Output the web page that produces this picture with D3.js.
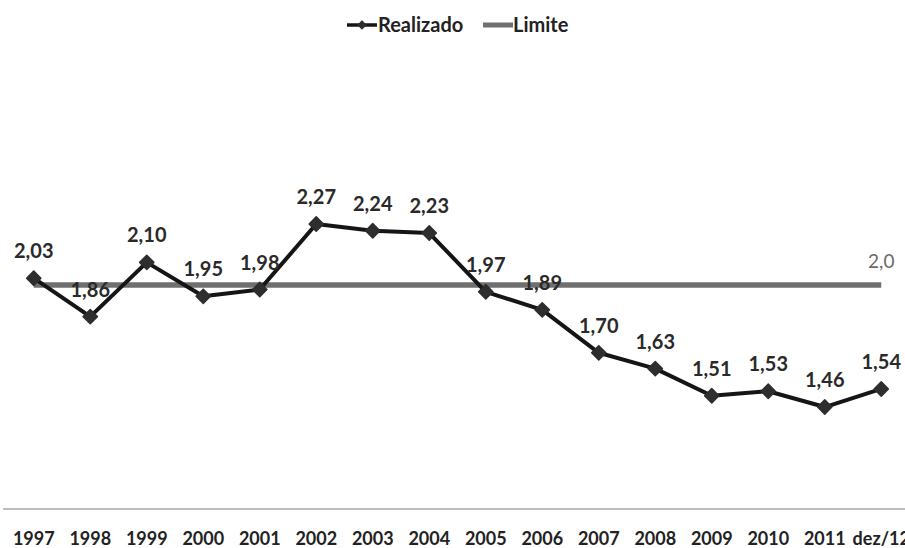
<!DOCTYPE html>
<html>
<head>
<meta charset="utf-8">
<script src="https://cdn.jsdelivr.net/npm/d3@7"></script>
<style>
  html, body { margin: 0; padding: 0; background: #fff; }
  svg { display: block; }
</style>
</head>
<body>
<svg id="chart" width="905" height="548"></svg>
<script>
// Categories (years) and the realised ratio per year
const categories = ["1997","1998","1999","2000","2001","2002","2003","2004","2005","2006","2007","2008","2009","2010","2011","dez/12"];
const realizado = [2.03, 1.86, 2.10, 1.95, 1.98, 2.27, 2.24, 2.23, 1.97, 1.89, 1.70, 1.63, 1.51, 1.53, 1.46, 1.54];
const limite = [2.0, 2.0, 2.0, 2.0, 2.0, 2.0, 2.0, 2.0, 2.0, 2.0, 2.0, 2.0, 2.0, 2.0, 2.0, 2.0];
const seriesNames = ["Realizado", "Limite"];
const yDomain = [1.0, 3.0];

const svg = d3.select("#chart");
const fmt = v => d3.format(".2f")(v).replace(".", ",");
const fmt1 = v => d3.format(".1f")(v).replace(".", ",");

const font = "Lato, 'Open Sans', sans-serif";

const x = d3.scaleBand().domain(categories).range([5.5, 909.5]).padding(0);
const y = d3.scaleLinear().domain(yDomain).range([511, 59]);
const cx = c => x(c) + x.bandwidth() / 2;

// category axis
const xAxis = d3.axisBottom(x).tickSize(0);
const gx = svg.append("g").attr("transform", "translate(0,509)").call(xAxis);
gx.select(".domain").attr("d", "M3,0H905").attr("stroke", "#bdbdbd").attr("stroke-width", 2);
gx.selectAll("text")
  .attr("y", 36).attr("dy", 0)
  .attr("font-family", font).attr("font-weight", "bold")
  .attr("font-size", 18).attr("fill", "#222");

// limit line
const lineGen = d3.line().x((d, i) => cx(categories[i])).y(d => y(d));
svg.append("path").datum(limite).attr("d", lineGen)
  .attr("fill", "none").attr("stroke", "#6f6f6f").attr("stroke-width", 5.5);

svg.append("text")
  .attr("x", cx(categories[categories.length - 1]))
  .attr("y", y(limite[limite.length - 1]) - 17)
  .attr("text-anchor", "middle")
  .attr("font-family", font).attr("font-size", 19)
  .attr("fill", "#6a6a6a")
  .text(fmt1(limite[limite.length - 1]));

// realised line with diamond markers
svg.append("path").datum(realizado).attr("d", lineGen)
  .attr("fill", "none").attr("stroke", "#151515").attr("stroke-width", 4)
  .attr("stroke-linejoin", "round");

const diamond = d3.symbol().type(d3.symbolDiamond2).size(130);
svg.selectAll(".pt").data(realizado).join("path")
  .attr("class", "pt")
  .attr("transform", (d, i) => `translate(${cx(categories[i])},${y(d)})`)
  .attr("d", diamond)
  .attr("fill", "#2e2e2e").attr("stroke", "#2e2e2e").attr("stroke-width", 1.5)
  .attr("stroke-linejoin", "round");

// value labels
svg.selectAll(".val").data(realizado).join("text")
  .attr("class", "val")
  .attr("x", (d, i) => cx(categories[i]))
  .attr("y", d => y(d) - 20)
  .attr("text-anchor", "middle")
  .attr("font-family", font).attr("font-weight", "bold")
  .attr("font-size", 20).attr("fill", "#2a2a2a")
  .text(fmt);

// legend
const legend = svg.append("g").attr("transform", "translate(347,25)");
const l1 = legend.append("g");
l1.append("line").attr("x1", 0).attr("x2", 30).attr("y1", 0).attr("y2", 0)
  .attr("stroke", "#151515").attr("stroke-width", 3.5);
l1.append("path").attr("d", d3.symbol().type(d3.symbolDiamond2).size(60))
  .attr("transform", "translate(15,0)").attr("fill", "#2e2e2e");
l1.append("text").attr("x", 31).attr("y", 7)
  .attr("font-family", font).attr("font-weight", "bold").attr("font-size", 20).attr("fill", "#222")
  .text(seriesNames[0]);
const l2 = legend.append("g").attr("transform", "translate(136,0)");
l2.append("line").attr("x1", 0).attr("x2", 30).attr("y1", 0).attr("y2", 0)
  .attr("stroke", "#6f6f6f").attr("stroke-width", 5);
l2.append("text").attr("x", 30).attr("y", 7)
  .attr("font-family", font).attr("font-weight", "bold").attr("font-size", 20).attr("fill", "#222")
  .text(seriesNames[1]);
</script>
</body>
</html>
